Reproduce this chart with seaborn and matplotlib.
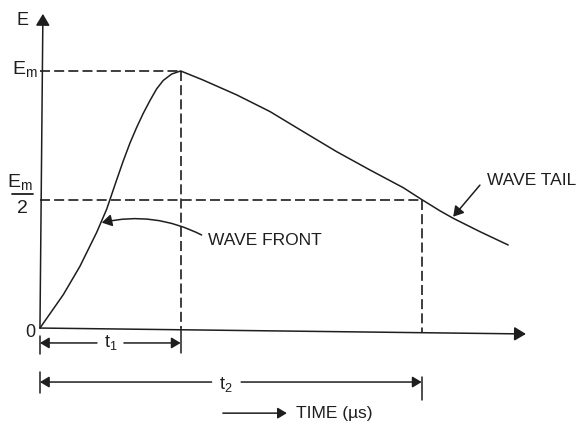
import matplotlib
matplotlib.use("Agg")
import matplotlib.pyplot as plt
import seaborn as sns
import pandas as pd

# ---- data (time in units of t1, voltage in units of Em) ----
front_t = [0.0, 0.166, 0.284, 0.403, 0.474, 0.545, 0.592, 0.640, 0.687,
           0.734, 0.782, 0.829, 0.876, 0.936, 1.0]
front_E = [0.0, 0.130, 0.240, 0.372, 0.462, 0.576, 0.650, 0.720, 0.780,
           0.835, 0.885, 0.930, 0.963, 0.988, 1.0]
tail_t = [1.158, 1.398, 1.635, 1.871, 2.109, 2.345, 2.582, 2.713, 2.843, 2.937,
          3.127, 3.328]
tail_E = [0.965, 0.907, 0.842, 0.764, 0.686, 0.615, 0.546, 0.500, 0.456, 0.427,
          0.375, 0.323]
t1 = 1.0
t2 = 2.713
Em = 1.0
Em_half = 0.5
labels = {"front": "WAVE FRONT", "tail": "WAVE TAIL", "time": "TIME (µs)"}

df = pd.DataFrame({"t": front_t + tail_t, "E": front_E + tail_E})

sns.set_theme(style="white")
plt.rcParams["font.family"] = ["Liberation Sans", "DejaVu Sans"]
plt.rcParams["mathtext.fontset"] = "custom"

INK = "#1e1e1e"
fig = plt.figure(figsize=(5.77, 4.26), dpi=100)
ax = fig.add_axes([0, 0, 1, 1])
ax.set_xlim(-0.284, 3.817)
ax.set_ylim(-0.381, 1.276)
ax.axis("off")

# curve
sns.lineplot(data=df, x="t", y="E", sort=False, estimator=None, color=INK,
             lw=1.1, ax=ax)

def arrow(x0, y0, x1, y1, ms=14, hl=0.5, hw=0.3, lw=1.1, rad=0.0):
    ax.annotate("", xy=(x1, y1), xytext=(x0, y0),
                arrowprops=dict(arrowstyle=f"-|>,head_length={hl},head_width={hw}",
                                color=INK, lw=lw, mutation_scale=ms,
                                shrinkA=0, shrinkB=0,
                                connectionstyle=f"arc3,rad={rad}"))

# axes with arrows
arrow(0, 0, 3.454, -0.023)          # time axis
arrow(0, 0, 0.021, 1.222)           # E axis

# dashed guides
dash = (0, (6, 2.5))
ax.plot([0, t1], [Em, Em], color=INK, lw=1.2, ls=dash)
ax.plot([t1, t1], [Em, 0], color=INK, lw=1.2, ls=dash)
ax.plot([0, t2], [Em_half, Em_half], color=INK, lw=1.2, ls=dash)
ax.plot([t2, t2], [Em_half, -0.02], color=INK, lw=1.2, ls=dash)

# t1 dimension
y1 = -0.058
ax.plot([0, 0], [-0.031, -0.101], color=INK, lw=1.1)
ax.plot([t1, t1], [0, -0.098], color=INK, lw=1.1)
arrow(0.405, y1, 0, y1, ms=11)
arrow(0.597, y1, t1, y1, ms=11)
ax.text(t1 / 2, y1, "t$_\\mathregular{1}$", ha="center", va="center",
        fontsize=13, color=INK)

# t2 dimension
y2 = -0.21
ax.plot([0, 0], [-0.171, -0.253], color=INK, lw=1.1)
ax.plot([t2, t2], [-0.19, -0.28], color=INK, lw=1.1)
arrow(1.22, y2, 0, y2, ms=11)
arrow(1.43, y2, t2, y2, ms=11)
ax.text(1.32, y2 - 0.01, "t$_\\mathregular{2}$", ha="center", va="center",
        fontsize=13, color=INK)

# time label
arrow(1.30, -0.331, 1.755, -0.331, ms=11)
ax.text(1.82, -0.331, labels["time"], ha="left", va="center", fontsize=12.5,
        color=INK)

# axis labels
ax.text(-0.124, 1.195, "E", ha="center", va="center", fontsize=13, color=INK)
ax.text(-0.071, -0.016, "0", ha="center", va="center", fontsize=13, color=INK)
ax.text(-0.014, 0.984, "E$_\\mathregular{m}$", ha="right", va="baseline",
        fontsize=14, color=INK)
ax.text(-0.05, 0.545, "E$_\\mathregular{m}$", ha="right", va="baseline",
        fontsize=14, color=INK)
ax.plot([-0.199, -0.05], [0.521, 0.521], color=INK, lw=1.3)
ax.text(-0.121, 0.447, "2", ha="center", va="baseline", fontsize=14, color=INK)

# annotations
ax.text(1.194, 0.34, labels["front"], ha="left", va="center", fontsize=12.5,
        color=INK)
arrow(1.149, 0.362, 0.439, 0.41, ms=12, rad=0.18)
ax.text(3.177, 0.574, labels["tail"], ha="left", va="center", fontsize=12.5,
        color=INK)
arrow(3.127, 0.556, 2.937, 0.433, ms=12)

fig.savefig("out.png", dpi=100, facecolor="white")
